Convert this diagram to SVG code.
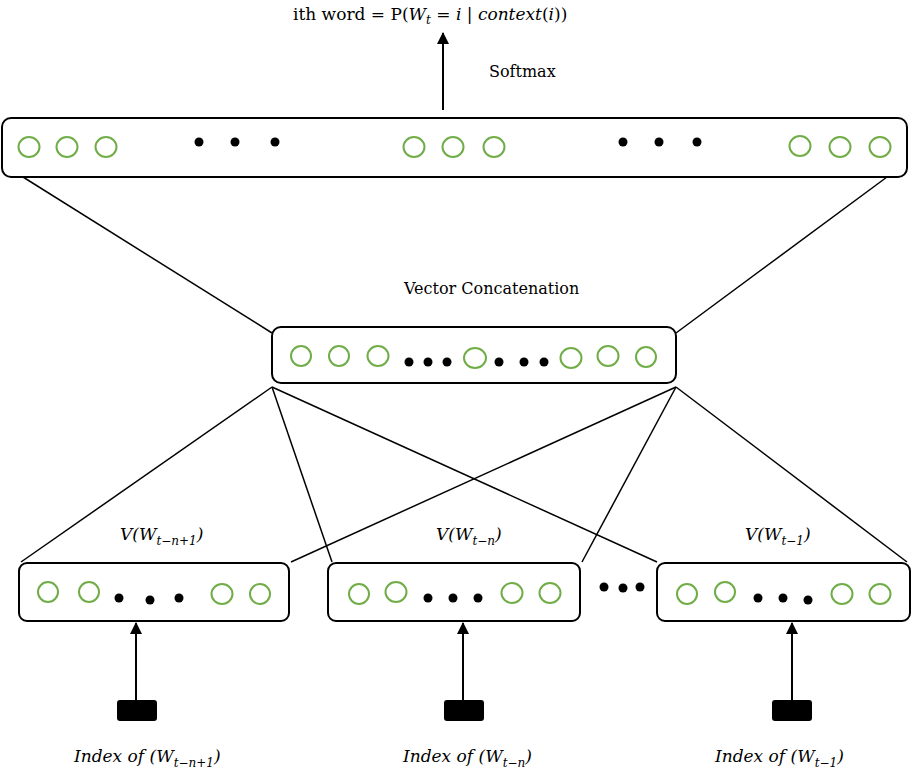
<svg xmlns="http://www.w3.org/2000/svg" width="912" height="773" viewBox="0 0 912 773">
  <style>
    .box { fill: #ffffff; stroke: #000000; stroke-width: 2; }
    .unit { fill: none; stroke: #70ad47; stroke-width: 2; }
    .dot { fill: #000000; }
    .link { stroke: #000000; stroke-width: 1.5; fill: none; }
    .arrow { stroke: #000000; stroke-width: 2; fill: none; marker-end: url(#head); }
    .key { fill: #000000; }
    .txt { font-family: "DejaVu Serif", "Liberation Serif", serif; font-size: 16px; fill: #000000; }
    .big { font-size: 17px; }
    .it { font-style: italic; }
    .sub { font-size: 12px; }
  </style>
  <defs>
    <marker id="head" viewBox="0 0 12 12" refX="11" refY="6" markerWidth="12" markerHeight="12" markerUnits="userSpaceOnUse" orient="auto">
      <path d="M0,0 L12,6 L0,12 z" fill="#000000"/>
    </marker>
  </defs>

  <!-- connectors between layers -->
  <g id="connectors">
    <line class="link" x1="23" y1="177" x2="272" y2="333"/>
    <line class="link" x1="887" y1="177" x2="676" y2="333"/>
    <line class="link" x1="272" y1="387" x2="21" y2="562"/>
    <line class="link" x1="272" y1="387" x2="332" y2="562"/>
    <line class="link" x1="272" y1="387" x2="657" y2="562"/>
    <line class="link" x1="676" y1="387" x2="291" y2="562"/>
    <line class="link" x1="676" y1="387" x2="582" y2="562"/>
    <line class="link" x1="676" y1="387" x2="907" y2="562"/>
    <line class="arrow" x1="443" y1="110" x2="443" y2="33"/>
    <line class="arrow" x1="136" y1="700" x2="136" y2="623"/>
    <line class="arrow" x1="463" y1="700" x2="463" y2="623"/>
    <line class="arrow" x1="792" y1="700" x2="792" y2="623"/>
  </g>

  <!-- output probability -->
  <g id="output-label">
    <text class="txt big" x="293" y="20">ith word = P(<tspan class="it">W</tspan><tspan class="it sub" dy="4">t</tspan><tspan dy="-4"> = </tspan><tspan class="it">i</tspan> | <tspan class="it">context</tspan>(<tspan class="it">i</tspan>))</text>
  </g>
  <g id="softmax-label">
    <text class="txt" x="489" y="77">Softmax</text>
  </g>

  <!-- output layer -->
  <g id="output-layer">
    <rect class="box" x="2" y="118" width="905" height="59" rx="9"/>
    <ellipse class="unit" cx="29" cy="147" rx="10.5" ry="10"/>
    <ellipse class="unit" cx="67" cy="147" rx="10.5" ry="10"/>
    <ellipse class="unit" cx="106" cy="147" rx="10.5" ry="10"/>
    <circle class="dot" cx="199" cy="142" r="4.5"/>
    <circle class="dot" cx="235" cy="142" r="4.5"/>
    <circle class="dot" cx="275" cy="142" r="4.5"/>
    <ellipse class="unit" cx="414" cy="147" rx="10.5" ry="10"/>
    <ellipse class="unit" cx="453" cy="147" rx="10.5" ry="10"/>
    <ellipse class="unit" cx="494" cy="147" rx="10.5" ry="10"/>
    <circle class="dot" cx="623" cy="142" r="4.5"/>
    <circle class="dot" cx="659" cy="142" r="4.5"/>
    <circle class="dot" cx="697" cy="142" r="4.5"/>
    <ellipse class="unit" cx="800" cy="146" rx="10.5" ry="10"/>
    <ellipse class="unit" cx="840" cy="147" rx="10.5" ry="10"/>
    <ellipse class="unit" cx="880" cy="147" rx="10.5" ry="10"/>
  </g>

  <!-- concatenation layer -->
  <g id="concat-layer">
    <text class="txt" x="404" y="294">Vector Concatenation</text>
    <rect class="box" x="272" y="327" width="404" height="56" rx="9"/>
    <ellipse class="unit" cx="301" cy="356" rx="10" ry="10"/>
    <ellipse class="unit" cx="339" cy="356" rx="10" ry="10"/>
    <ellipse class="unit" cx="378" cy="356" rx="10.5" ry="10"/>
    <circle class="dot" cx="409" cy="362" r="4.5"/>
    <circle class="dot" cx="428" cy="362" r="4.5"/>
    <circle class="dot" cx="447" cy="362" r="4.5"/>
    <ellipse class="unit" cx="475" cy="358" rx="11" ry="10"/>
    <circle class="dot" cx="499" cy="362" r="4.5"/>
    <circle class="dot" cx="524" cy="362" r="4.5"/>
    <circle class="dot" cx="544" cy="362" r="4.5"/>
    <ellipse class="unit" cx="571" cy="358" rx="10.5" ry="10"/>
    <ellipse class="unit" cx="608" cy="356" rx="10.5" ry="10"/>
    <ellipse class="unit" cx="646" cy="357" rx="10" ry="10"/>
  </g>

  <!-- embedding of W(t-n+1) -->
  <g id="embed-1">
    <text class="txt big it" x="120" y="540">V(W<tspan class="sub" dy="5">t−n+1</tspan><tspan dy="-5">)</tspan></text>
    <rect class="box" x="19" y="563" width="270" height="58" rx="8"/>
    <ellipse class="unit" cx="48" cy="592" rx="10" ry="10"/>
    <ellipse class="unit" cx="89" cy="592" rx="10" ry="10"/>
    <circle class="dot" cx="119" cy="598" r="4.5"/>
    <circle class="dot" cx="150" cy="600" r="4.5"/>
    <circle class="dot" cx="179" cy="598" r="4.5"/>
    <ellipse class="unit" cx="222" cy="594" rx="10.5" ry="10"/>
    <ellipse class="unit" cx="260" cy="594" rx="10" ry="10"/>
  </g>

  <!-- embedding of W(t-n) -->
  <g id="embed-2">
    <text class="txt big it" x="436" y="540">V(W<tspan class="sub" dy="5">t−n</tspan><tspan dy="-5">)</tspan></text>
    <rect class="box" x="328" y="563" width="252" height="58" rx="8"/>
    <ellipse class="unit" cx="359" cy="594" rx="10" ry="10"/>
    <ellipse class="unit" cx="396" cy="592" rx="10.5" ry="10"/>
    <circle class="dot" cx="428" cy="598" r="4.5"/>
    <circle class="dot" cx="453" cy="598" r="4.5"/>
    <circle class="dot" cx="478" cy="598" r="4.5"/>
    <ellipse class="unit" cx="512" cy="593" rx="10.5" ry="10"/>
    <ellipse class="unit" cx="550" cy="593" rx="10.5" ry="10"/>
  </g>

  <!-- ellipsis between embeddings -->
  <g id="more-embeddings">
    <circle class="dot" cx="604" cy="587" r="4.5"/>
    <circle class="dot" cx="623" cy="588" r="4.5"/>
    <circle class="dot" cx="640" cy="587" r="4.5"/>
  </g>

  <!-- embedding of W(t-1) -->
  <g id="embed-3">
    <text class="txt big it" x="745" y="540">V(W<tspan class="sub" dy="5">t−1</tspan><tspan dy="-5">)</tspan></text>
    <rect class="box" x="657" y="563" width="253" height="58" rx="8"/>
    <ellipse class="unit" cx="687" cy="594" rx="10" ry="10"/>
    <ellipse class="unit" cx="725" cy="592" rx="10" ry="10"/>
    <circle class="dot" cx="758" cy="598" r="4.5"/>
    <circle class="dot" cx="783" cy="598" r="4.5"/>
    <circle class="dot" cx="808" cy="600" r="4.5"/>
    <ellipse class="unit" cx="842" cy="594" rx="10.5" ry="10"/>
    <ellipse class="unit" cx="880" cy="594" rx="10.5" ry="10"/>
  </g>

  <!-- word index inputs -->
  <g id="index-1">
    <rect class="key" x="117" y="700" width="40" height="21" rx="3"/>
    <text class="txt big it" x="74" y="762">Index of (W<tspan class="sub" dy="5">t−n+1</tspan><tspan dy="-5">)</tspan></text>
  </g>
  <g id="index-2">
    <rect class="key" x="444" y="700" width="40" height="21" rx="3"/>
    <text class="txt big it" x="403" y="762">Index of (W<tspan class="sub" dy="5">t−n</tspan><tspan dy="-5">)</tspan></text>
  </g>
  <g id="index-3">
    <rect class="key" x="772" y="700" width="40" height="21" rx="3"/>
    <text class="txt big it" x="715" y="762">Index of (W<tspan class="sub" dy="5">t−1</tspan><tspan dy="-5">)</tspan></text>
  </g>
</svg>
